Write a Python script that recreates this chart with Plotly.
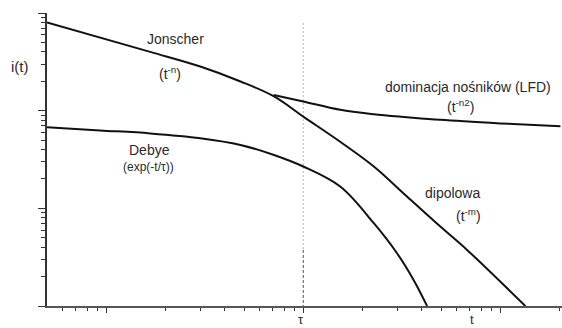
import plotly.graph_objects as go

# Schematic depolarisation current i(t) on log-log axes (arbitrary units)
# Jonscher -> dipolar branch (one continuous curve)
jonscher_t = [0.05, 0.167, 0.30, 0.48, 0.71, 1.0, 1.54, 2.28, 3.36, 4.96, 6.78, 13.4]
jonscher_i = [800, 400, 283, 199, 140, 87, 48, 26.8, 13.2, 6.5, 3.75, 1.0]

# carrier-dominated branch (LFD)
lfd_t = [0.707, 1.0, 1.54, 2.28, 3.36, 4.96, 10.0, 20.2]
lfd_i = [145, 124, 102, 92, 85.8, 80.5, 74.1, 69.1]

# Debye relaxation exp(-t/tau)
debye_t = [0.05, 0.093, 0.167, 0.30, 0.48, 0.71, 1.0, 1.54, 2.28, 2.99, 3.63, 4.25]
debye_i = [67.7, 62.8, 58.5, 52.3, 44.6, 35.2, 26.8, 16.7, 7.04, 3.47, 1.85, 1.0]

# marker line at t = tau
tau_t = [1.0, 1.0]
tau_upper_i = [790, 3.75]
tau_lower_i = [3.75, 1.0]

x_major = [0.1, 1, 10]
x_minor = [0.06, 0.07, 0.08, 0.09] + [k / 10 for k in range(2, 10)] + list(range(2, 10)) + [20]
y_major = [1, 10, 100, 1000]
y_minor = [m * d for d in (1, 10, 100) for m in range(2, 10)]

INK = "#111111"
TXT = "#2a2a2a"
FONT = "Liberation Sans, Arial, sans-serif"

fig = go.Figure()

fig.add_trace(go.Scatter(x=tau_t, y=tau_upper_i, mode="lines",
                         line=dict(color="#b8b8b8", width=1, dash="2px,2px"),
                         hoverinfo="skip", showlegend=False))
fig.add_trace(go.Scatter(x=tau_t, y=tau_lower_i, mode="lines",
                         line=dict(color="#555555", width=1, dash="3px,2px"),
                         hoverinfo="skip", showlegend=False))

for xs, ys in ((jonscher_t, jonscher_i), (lfd_t, lfd_i), (debye_t, debye_i)):
    fig.add_trace(go.Scatter(x=xs, y=ys, mode="lines",
                             line=dict(color=INK, width=2, shape="spline", smoothing=1.0),
                             showlegend=False))

x0 = -1.30103
fig.update_xaxes(
    type="log", range=[x0, x0 + 515 / 197],
    showgrid=False, zeroline=False,
    showline=True, linecolor="#555555", linewidth=2,
    ticks="outside", tickvals=x_major, ticklen=5, tickcolor="#333333", tickwidth=1,
    showticklabels=False,
    minor=dict(tickvals=x_minor, ticks="outside", ticklen=3, tickcolor="#333333", tickwidth=1),
)
fig.update_yaxes(
    type="log", range=[0, 3],
    showgrid=False, zeroline=False,
    showline=True, linecolor="#333333", linewidth=2,
    ticks="outside", tickvals=y_major, ticklen=7, tickcolor="#333333", tickwidth=1,
    showticklabels=False,
    minor=dict(tickvals=y_minor, ticks="outside", ticklen=4, tickcolor="#333333", tickwidth=1),
)

W, H = 562, 328
L, T, B = 47, 13, 22
pw, ph = W - L, H - T - B

def px(xp, yp, text, size=14):
    # place text at a pixel position of the page
    fig.add_annotation(text=text, x=(xp - L) / pw, y=(H - B - yp) / ph,
                       xref="paper", yref="paper", showarrow=False,
                       font=dict(family=FONT, size=size, color=TXT),
                       xanchor="center", yanchor="middle")

px(20, 66, "i(t)", 15)
px(175, 39, "Jonscher", 14)
px(170, 73, "(t<sup>-n</sup>)", 14)
px(149, 150, "Debye", 14)
px(148, 167, "(exp(-t/τ))", 12)
px(468, 87, "dominacja nośników (LFD)", 14)
px(460, 106, "(t<sup>-n2</sup>)", 14)
px(452, 193, "dipolowa", 14)
px(468, 215, "(t<sup>-m</sup>)", 14)
px(301, 319, "τ", 13)
px(472, 319, "t", 13)

fig.update_layout(
    width=W, height=H,
    margin=dict(l=L, r=0, t=T, b=B),
    paper_bgcolor="white", plot_bgcolor="white",
    showlegend=False,
)

fig.write_html("out.html")
